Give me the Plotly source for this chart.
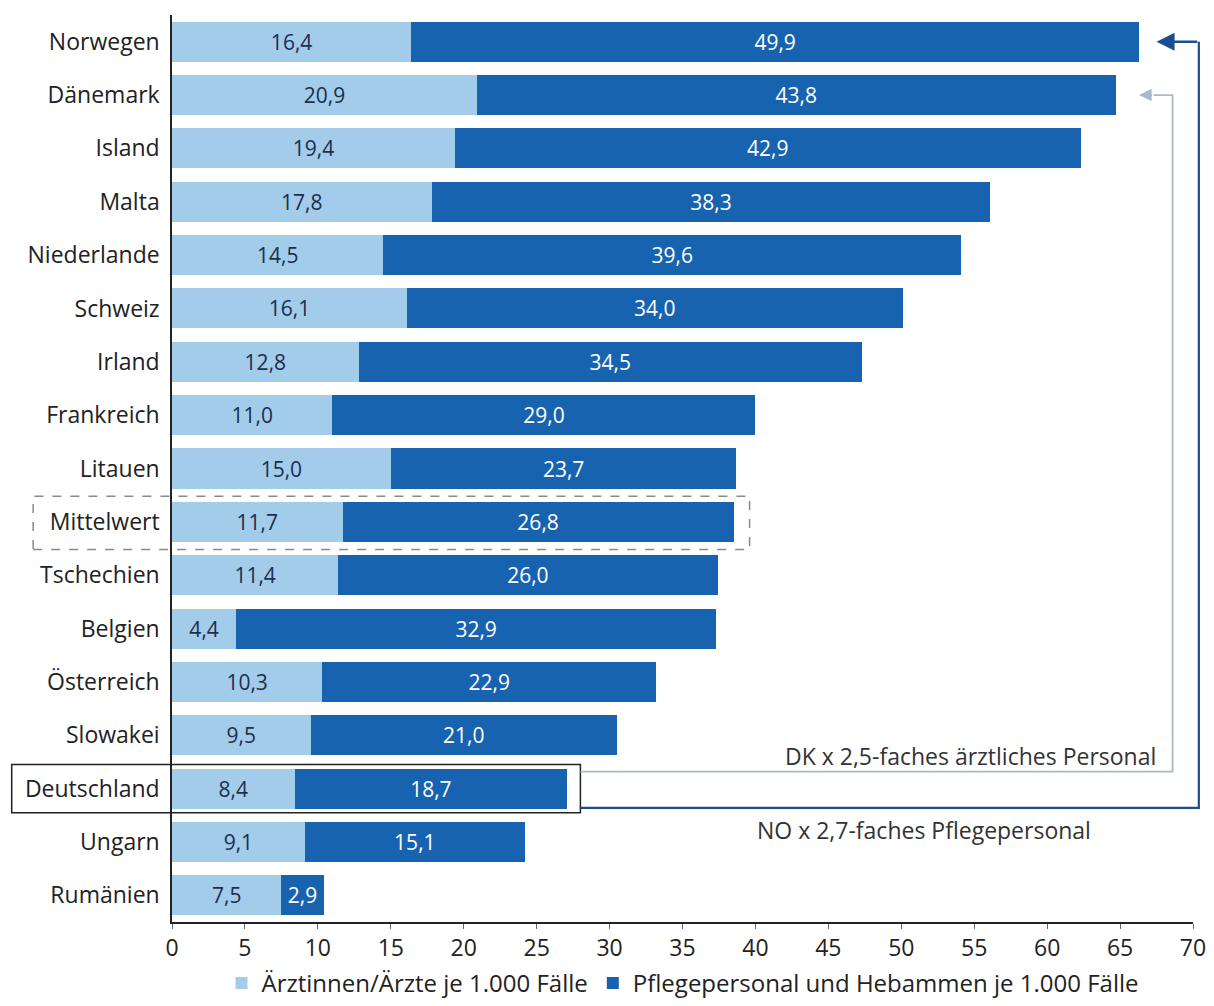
import plotly.graph_objects as go

# Staff per 1,000 hospital cases, by country
countries = ["Norwegen", "Dänemark", "Island", "Malta", "Niederlande", "Schweiz",
             "Irland", "Frankreich", "Litauen", "Mittelwert", "Tschechien", "Belgien",
             "Österreich", "Slowakei", "Deutschland", "Ungarn", "Rumänien"]
aerzte = [16.4, 20.9, 19.4, 17.8, 14.5, 16.1, 12.8, 11.0, 15.0, 11.7, 11.4, 4.4,
          10.3, 9.5, 8.4, 9.1, 7.5]
pflege = [49.9, 43.8, 42.9, 38.3, 39.6, 34.0, 34.5, 29.0, 23.7, 26.8, 26.0, 32.9,
          22.9, 21.0, 18.7, 15.1, 2.9]
x_ticks = list(range(0, 75, 5))

name_aerzte = "Ärztinnen/Ärzte je 1.000 Fälle"
name_pflege = "Pflegepersonal und Hebammen je 1.000 Fälle"
note_dk = "DK x 2,5-faches ärztliches Personal"
note_no = "NO x 2,7-faches Pflegepersonal"

LIGHT = "#a3cbea"
DARK = "#1863af"
FONT = "Open Sans"
X_MAX = 70
HEIGHT, M_TOP, M_BOT = 1006, 15, 84


def fmt(v):
    return f"{v:.1f}".replace(".", ",")


fig = go.Figure()
fig.add_trace(go.Bar(
    y=countries, x=aerzte, orientation="h", name=name_aerzte,
    marker=dict(color=LIGHT, line=dict(width=0)),
    text=[fmt(v) for v in aerzte], textposition="inside", insidetextanchor="middle",
    textangle=0, constraintext="none",
    insidetextfont=dict(color="#1b2f4f", size=21, family=FONT),
))
fig.add_trace(go.Bar(
    y=countries, x=pflege, orientation="h", name=name_pflege,
    marker=dict(color=DARK, line=dict(width=0)),
    text=[fmt(v) for v in pflege], textposition="inside", insidetextanchor="middle",
    textangle=0, constraintext="none",
    insidetextfont=dict(color="white", size=21, family=FONT),
))

n = len(countries)
totals = [a + p for a, p in zip(aerzte, pflege)]


def px(v):
    # data value on the x axis -> fraction of the x domain
    return v / X_MAX


def py(i, offset=0.0):
    # category index (from top) -> fraction of the y domain, offset in band units
    return 1 - (i + 0.5 + offset) / n


i_mw = countries.index("Mittelwert")
i_de = countries.index("Deutschland")
i_no = countries.index("Norwegen")
i_dk = countries.index("Dänemark")

XR, YR = "x domain", "y domain"

shapes = [
    # dashed frame around the mean row
    dict(type="rect", xref="paper", yref="paper",
         x0=-0.136, x1=px(totals[i_mw] + 1.1),
         y0=py(i_mw, 0.52), y1=py(i_mw, -0.48),
         line=dict(color="#8a8a8a", width=1.5, dash="dash")),
    # solid frame around Germany
    dict(type="rect", xref="paper", yref="paper",
         x0=-0.157, x1=px(totals[i_de] + 0.9),
         y0=py(i_de, 0.45), y1=py(i_de, -0.45),
         line=dict(color="#222222", width=1.5)),
    # DK connector (light)
    dict(type="path", xref="paper", yref="paper",
         path=(f"M {px(totals[i_de] + 0.9)},{py(i_de, -0.32)} "
               f"L {px(68.6)},{py(i_de, -0.32)} "
               f"L {px(68.6)},{py(i_dk)} "
               f"L {px(67.3)},{py(i_dk)}"),
         line=dict(color="#a9b9cc", width=1.8)),
    # NO connector (dark)
    dict(type="path", xref="paper", yref="paper",
         path=(f"M {px(totals[i_de] + 0.9)},{py(i_de, 0.36)} "
               f"L {px(70.4)},{py(i_de, 0.36)} "
               f"L {px(70.4)},{py(i_no)}"),
         line=dict(color="#1a4f8e", width=2.2)),
]

annotations = [
    # arrowheads pointing at Norway and Denmark
    dict(xref=XR, yref=YR, x=px(totals[i_no] + 1.2), y=py(i_no),
         ax=px(70.4), ay=py(i_no), axref=XR, ayref=YR,
         showarrow=True, arrowhead=2, arrowsize=1.5, arrowwidth=2.4,
         arrowcolor="#1a4f8e", text=""),
    dict(xref=XR, yref=YR, x=px(totals[i_dk] + 1.6), y=py(i_dk),
         ax=px(67.3), ay=py(i_dk), axref=XR, ayref=YR,
         showarrow=True, arrowhead=2, arrowsize=1.4, arrowwidth=1.8,
         arrowcolor="#a9b9cc", text=""),
    dict(xref="paper", yref="paper", x=px(67.6), y=py(i_de, -0.62),
         xanchor="right", yanchor="middle", showarrow=False, text=note_dk,
         font=dict(size=23, color="#333333", family=FONT)),
    dict(xref="paper", yref="paper", x=px(40.0), y=py(i_de, 0.77),
         xanchor="left", yanchor="middle", showarrow=False, text=note_no,
         font=dict(size=23, color="#333333", family=FONT)),
]

# legend sits flush with the bottom edge of the page
plot_h = HEIGHT - M_TOP - M_BOT
legend_y = -M_BOT / plot_h

fig.update_layout(
    barmode="stack",
    bargap=0.25,
    width=1214, height=HEIGHT,
    margin=dict(l=172, r=21, t=M_TOP, b=M_BOT, autoexpand=False),
    paper_bgcolor="white", plot_bgcolor="white",
    font=dict(family=FONT, size=22, color="#222222"),
    shapes=shapes,
    annotations=annotations,
    legend=dict(orientation="h", x=0.5, xanchor="center", y=legend_y, yanchor="bottom",
                font=dict(size=24, color="#222222"), itemclick=False,
                traceorder="normal"),
    showlegend=True,
)
fig.update_xaxes(range=[0, X_MAX], tickvals=x_ticks, showgrid=False, zeroline=False,
                 showline=True, linecolor="#222222", linewidth=1.5, automargin=False,
                 ticks="outside", ticklen=5, tickcolor="#666666",
                 tickfont=dict(size=23, color="#222222"))
fig.update_yaxes(autorange="reversed", showgrid=False, zeroline=False,
                 showline=True, linecolor="#222222", linewidth=1.5, automargin=False,
                 ticks="", ticksuffix=" ", tickfont=dict(size=23, color="#222222"))

fig.write_html("out.html")
